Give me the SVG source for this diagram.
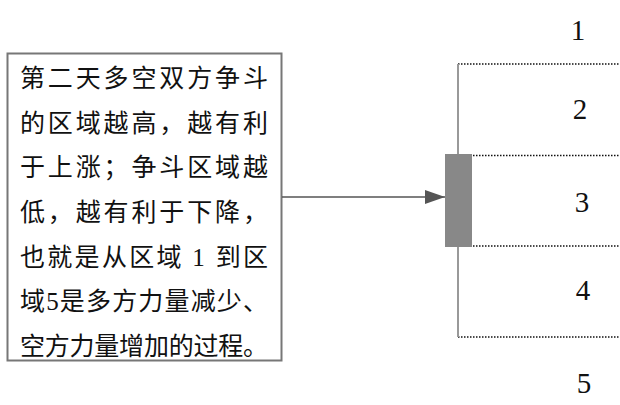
<svg xmlns="http://www.w3.org/2000/svg" width="620" height="405" viewBox="0 0 620 405">
<style>
.t{font-family:"Liberation Serif","Noto Sans CJK SC",serif;font-size:25px;fill:#111}
.n{font-family:"Liberation Serif",serif;font-size:29px;fill:#111;text-anchor:middle}
.dot{stroke:#111;stroke-width:1.5;stroke-dasharray:1.5,1.5;fill:none}
</style>
<defs>
<marker id="ah" markerWidth="20" markerHeight="16" refX="20" refY="8" orient="auto" markerUnits="userSpaceOnUse" viewBox="0 0 20 16">
<path d="M0,1 L20,8 L0,15 Z" fill="#555"/>
</marker>
</defs>
<rect width="620" height="405" fill="#fff"/>
<g id="textbox">
<rect x="7.5" y="53.5" width="274" height="307" fill="#fff" stroke="#777" stroke-width="2"/>
<text class="t" x="20" y="87" textLength="248" lengthAdjust="spacing">第二天多空双方争斗</text>
<text class="t" x="20" y="132" textLength="248" lengthAdjust="spacing">的区域越高，越有利</text>
<text class="t" x="20" y="176" textLength="248" lengthAdjust="spacing">于上涨；争斗区域越</text>
<text class="t" x="20" y="221" textLength="248" lengthAdjust="spacing">低，越有利于下降，</text>
<text class="t" x="20" y="266" textLength="248" lengthAdjust="spacing">也就是从区域 1 到区</text>
<text class="t" x="20" y="310" textLength="248" lengthAdjust="spacing">域5是多方力量减少、</text>
<text class="t" x="20" y="355" textLength="248" lengthAdjust="spacing">空方力量增加的过程。</text>
</g>
<g id="zones">
<line class="dot" x1="458" y1="64" x2="620" y2="64"/>
<line class="dot" x1="458" y1="155.5" x2="620" y2="155.5"/>
<line class="dot" x1="458" y1="246" x2="620" y2="246"/>
<line class="dot" x1="458" y1="337" x2="620" y2="337"/>
<text class="n" x="578" y="40">1</text>
<text class="n" x="580" y="119">2</text>
<text class="n" x="582" y="212">3</text>
<text class="n" x="583" y="300">4</text>
<text class="n" x="584" y="393">5</text>
</g>
<g id="candle">
<line x1="458" y1="64" x2="458" y2="337" stroke="#999" stroke-width="2"/>
<rect x="445" y="154" width="27" height="93" fill="#888"/>
</g>
<g id="connectors">
<line x1="282" y1="197" x2="445" y2="197" stroke="#555" stroke-width="1.5" marker-end="url(#ah)"/>
</g>
</svg>
